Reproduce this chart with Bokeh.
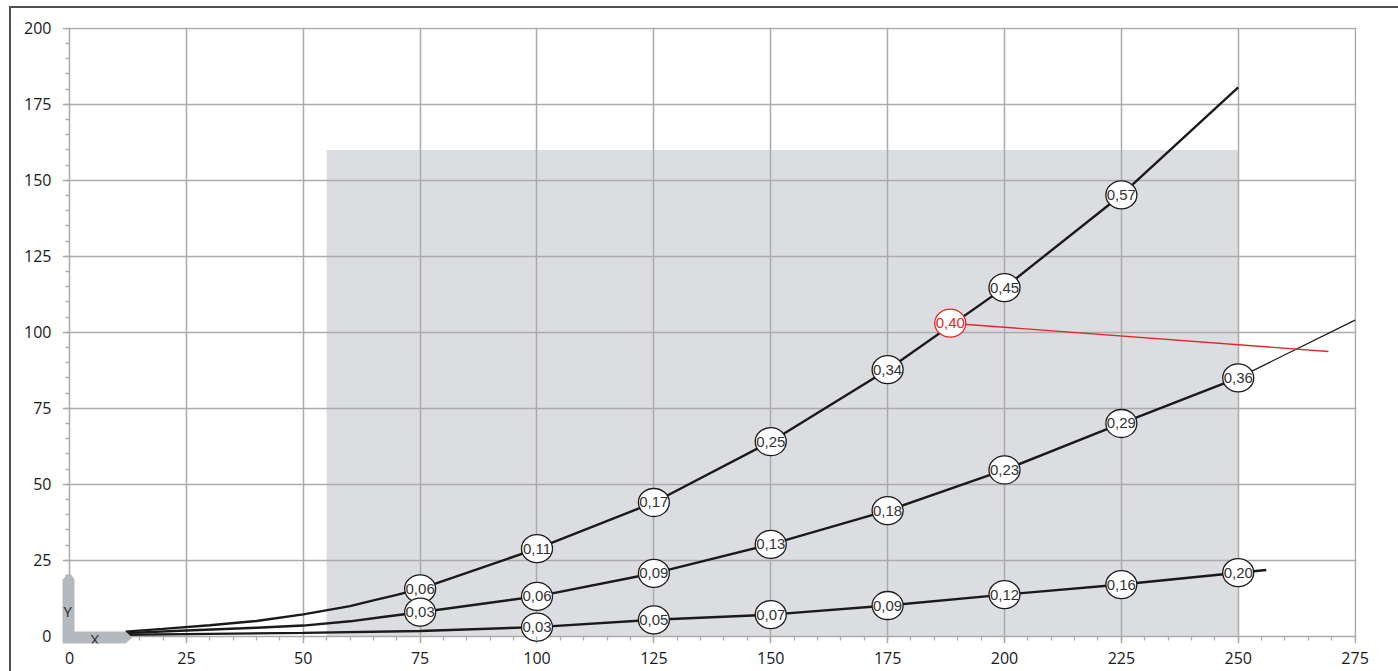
import math
from bokeh.plotting import figure
from bokeh.models import SingleIntervalTicker, Range1d, Label, ColumnDataSource, LinearAxis
from bokeh.core.properties import value
from bokeh.embed import file_html
from bokeh.resources import INLINE

# ---------------- data ----------------
tick_interval = 25

# shaded operating region
region_left = [55]
region_right = [250]
region_bottom = [0]
region_top = [160]

# upper curve
top_x = [12, 20, 30, 40, 50, 60, 65, 70, 75, 100, 125, 150, 175, 200, 225, 250]
top_y = [1.5, 2.4, 3.6, 5.0, 7.2, 9.9, 11.8, 13.6, 15.6, 28.8, 44.0, 64.0, 87.7, 114.7, 145.2, 180.6]
top_lbl_x = [75, 100, 125, 150, 175, 200, 225]
top_lbl_y = [15.6, 28.8, 44.0, 64.0, 87.7, 114.7, 145.2]
top_lbl_t = ["0,06", "0,11", "0,17", "0,25", "0,34", "0,45", "0,57"]

# middle curve
mid_x = [12, 25, 40, 50, 60, 67, 75, 100, 125, 150, 175, 200, 225, 250]
mid_y = [1.0, 1.9, 2.8, 3.5, 4.9, 6.3, 7.9, 13.1, 20.7, 30.2, 41.3, 54.7, 70.0, 85.0]
mid_ext_x = [250, 275]
mid_ext_y = [85.0, 104.0]
mid_lbl_x = [75, 100, 125, 150, 175, 200, 225, 250]
mid_lbl_y = [7.9, 13.1, 20.7, 30.2, 41.3, 54.7, 70.0, 85.0]
mid_lbl_t = ["0,03", "0,06", "0,09", "0,13", "0,18", "0,23", "0,29", "0,36"]

# lower curve
bot_x = [12, 25, 50, 75, 100, 125, 150, 175, 200, 225, 250, 256]
bot_y = [0.5, 0.7, 1.1, 1.7, 3.0, 5.4, 7.1, 10.1, 13.7, 17.0, 20.9, 21.8]
bot_lbl_x = [100, 125, 150, 175, 200, 225, 250]
bot_lbl_y = [3.0, 5.4, 7.1, 10.1, 13.7, 17.0, 20.9]
bot_lbl_t = ["0,03", "0,05", "0,07", "0,09", "0,12", "0,16", "0,20"]

# red operating point
red_x = [188.4, 269.3]
red_y = [103.0, 93.7]
red_lbl = ["0,40"]

# axis-direction icon (Y / X arrows)
icon_x = [-1.5, 12.0, 13.4, 12.0, 1.07, 1.07, 0.36, -0.49, -1.5]
icon_y = [-2.4, -2.4, -0.45, 1.55, 1.55, 18.55, 20.3, 20.3, 18.55]

doc_id = "D0000063739"

# ---------------- figure ----------------
p = figure(width=1398, height=671, x_range=Range1d(-1.5, 275.3), y_range=Range1d(-2.4, 200.3),
           output_backend="svg", toolbar_location=None,
           min_border_left=62, min_border_right=42, min_border_top=27, min_border_bottom=28)
p.background_fill_color = "white"
p.border_fill_color = "white"
p.border_fill_alpha = 0
p.outline_line_color = None
p.styles = {"background": "linear-gradient(#505050,#505050) 10px 6px / 100% 2px no-repeat, "
                          "linear-gradient(#505050,#505050) 9px 6px / 2px 100% no-repeat, #ffffff"}

grid_col = "#ababab"
xt = SingleIntervalTicker(interval=tick_interval, num_minor_ticks=5)
yt = SingleIntervalTicker(interval=tick_interval, num_minor_ticks=5)
p.xaxis.ticker = xt
p.yaxis.ticker = yt
p.xgrid.ticker = xt
p.ygrid.ticker = yt
for g in (p.xgrid, p.ygrid):
    g.grid_line_color = grid_col
    g.grid_line_width = 1.5

# label-only axes at the frame edges
for ax in (p.xaxis, p.yaxis):
    ax.axis_line_color = None
    ax.major_tick_line_color = None
    ax.minor_tick_line_color = None
    ax.major_tick_in = 0
    ax.major_tick_out = 0
    ax.minor_tick_in = 0
    ax.minor_tick_out = 0
    ax.major_label_text_font = "Open Sans"
    ax.major_label_text_font_size = "16px"
    ax.major_label_text_color = "#1a1a1a"
p.xaxis.major_label_standoff = 8
p.yaxis.major_label_standoff = 11

# tick-only axes placed at zero
for loc, tk in (("below", xt), ("left", yt)):
    tax = LinearAxis(ticker=tk, fixed_location=0, axis_line_color=None,
                     major_tick_line_color=None, minor_tick_line_color=grid_col,
                     minor_tick_line_width=1.3, minor_tick_in=0, minor_tick_out=4,
                     major_tick_in=0, major_tick_out=0,
                     major_label_text_alpha=0, major_label_text_font_size="1px")
    p.add_layout(tax, loc)

# shaded region
p.quad(left=region_left, right=region_right, bottom=region_bottom, top=region_top,
       fill_color="#dcdde0", line_color=None, level="image")

# curves
line_col = "#1a1a1a"
p.line(top_x, top_y, line_color=line_col, line_width=2.4)
p.line(mid_x, mid_y, line_color=line_col, line_width=2.4)
p.line(mid_ext_x, mid_ext_y, line_color=line_col, line_width=1.2)
p.line(bot_x, bot_y, line_color=line_col, line_width=2.4)

red = "#e5262a"
p.line(red_x, red_y, line_color=red, line_width=1.4)

lbl = ColumnDataSource(dict(
    x=top_lbl_x + mid_lbl_x + bot_lbl_x,
    y=top_lbl_y + mid_lbl_y + bot_lbl_y,
    t=top_lbl_t + mid_lbl_t + bot_lbl_t,
))
p.ellipse(x="x", y="y", width=31, height=28, width_units="screen", height_units="screen",
          fill_color="white", line_color=line_col, line_width=1.3, source=lbl)
p.text(x="x", y="y", text="t", source=lbl, text_font=value("Liberation Sans"),
       text_font_size="15px", text_align="center", text_baseline="middle",
       text_color="#333333")

red_src = ColumnDataSource(dict(x=red_x[:1], y=red_y[:1], t=red_lbl))
p.ellipse(x="x", y="y", width=31, height=28, width_units="screen", height_units="screen",
          fill_color="white", line_color=red, line_width=1.3, source=red_src)
p.text(x="x", y="y", text="t", source=red_src, text_font=value("Liberation Sans"),
       text_font_size="15px", text_align="center", text_baseline="middle",
       text_color=red)

# axis icon
p.patch(icon_x, icon_y, fill_color="#b4b8bf", line_color=None, level="annotation")
p.add_layout(Label(x=-0.4, y=8.4, text="Y", text_font="Open Sans", text_font_size="15px",
                   text_color="#2a2a2a", text_align="center", text_baseline="middle",
                   level="overlay"))
p.add_layout(Label(x=5.4, y=-0.8, text="X", text_font="Open Sans", text_font_size="15px",
                   text_color="#2a2a2a", text_align="center", text_baseline="middle",
                   level="overlay"))

# document id, vertical at the right edge
p.add_layout(Label(x=281.3, y=-1.4, text=doc_id, angle=math.pi / 2, text_font="Open Sans",
                   text_font_size="12px", text_color="#2a2a2a", text_align="left",
                   text_baseline="middle"))

open("out.html", "w").write(file_html(p, INLINE))
